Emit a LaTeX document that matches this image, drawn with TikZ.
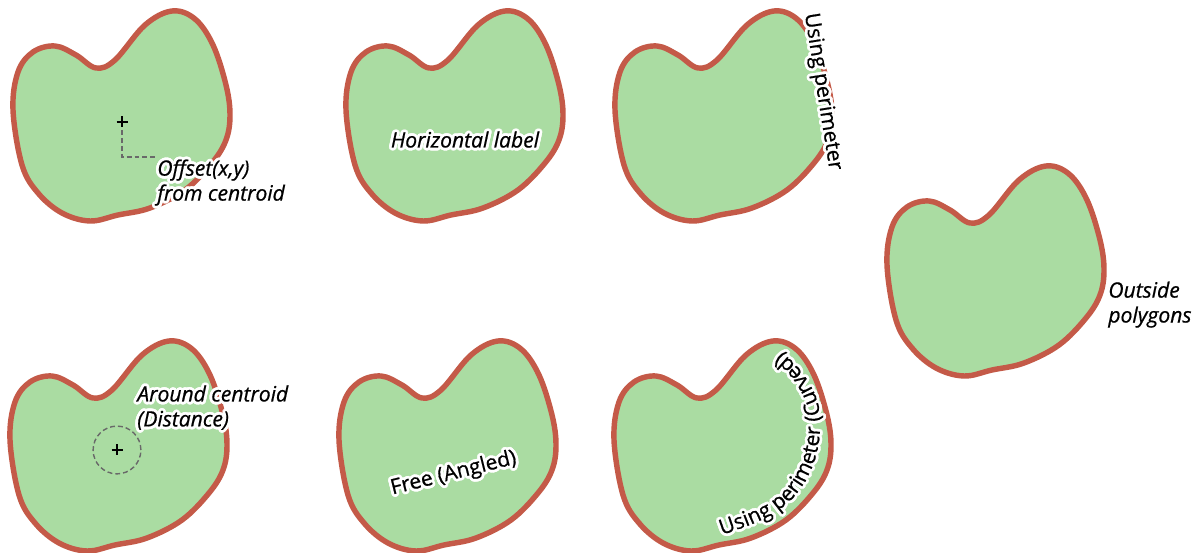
\documentclass[tikz,border=0pt]{standalone}
\usepackage{fontspec}
\setmainfont{Open Sans}[FakeBold=0.7]
\usepackage[copies]{contour}
\contourlength{1.6pt}
\usetikzlibrary{decorations.text}
\definecolor{blobfill}{RGB}{170,220,162}
\definecolor{blobline}{RGB}{196,90,72}
\definecolor{guidegray}{RGB}{105,105,105}
\newcommand\lblfont{\fontsize{12}{14.2}\selectfont}
\newcommand\blobat[2]{%
  \filldraw[blob, shift={(#1,#2)}] plot[smooth cycle, tension=0.6] coordinates {
    (13,110) (18,72) (33,52) (55,46) (76,55) (96,68) (115,60) (145,25)
    (172,11) (195,19) (213,45) (226,85) (230,115) (226,140) (212,163)
    (185,190) (150,208) (118,215) (90,221) (62,213) (38,193) (22,165)};}
\newcommand\curvedlabel[2]{%
  \path[decorate, decoration={text along path, text align=left,
      text={|\lblfont\color{#1}|Using perimeter (Curved)}}, shift={#2}]
    plot[smooth] coordinates {(722,535) (750,525) (773,514) (792,499) (806,480)
      (816,456) (820,430) (818,403) (808,381) (794,363) (779,351) (765,343)};}
\begin{document}
\begin{tikzpicture}[x=0.02cm, y=-0.02cm,
  blob/.style={fill=blobfill, draw=blobline, line width=3.1pt, line join=round},
  lbl/.style={inner sep=0pt, font=\lblfont},
  ilbl/.style={inner sep=0pt, font=\lblfont\itshape},
  crossmark/.style={line width=1.2pt, black},
  guideline/.style={draw=guidegray, line width=0.8pt, dash pattern=on 2.8pt off 1.7pt}]
\fill[white] (0,0) rectangle (1200,553);
\useasboundingbox (0,0) rectangle (1200,553);
% polygons
\blobat{0}{0}
\blobat{333}{0}
\blobat{602}{0}
\blobat{-3}{330}
\blobat{326}{330}
\blobat{601}{330}
\blobat{874}{155}
% offset from centroid
\coordinate (cen1) at (122,122);
\draw[guideline] (cen1) ++(0,8) |- (157,157);
\draw[crossmark] (cen1) +(-5.5,0) -- +(5.5,0) (cen1) +(0,-5.5) -- +(0,5.5);
\node[ilbl, anchor=west, align=left] (lbloffset) at (157,184)
  {\contour{white}{Offset(x,y)}\\\contour{white}{from centroid}};
% horizontal
\node[ilbl] (lblhoriz) at (465,141) {\contour{white}{Horizontal label}};
% using perimeter
\node[lbl, rotate=-81] (lblperim) at (821,92) {\contour{white}{Using perimeter}};
% around centroid
\coordinate (cen4) at (117,450);
\draw[guideline] (cen4) circle[radius=13.6pt];
\draw[crossmark] (cen4) +(-5.5,0) -- +(5.5,0) (cen4) +(0,-5.5) -- +(0,5.5);
\node[ilbl, anchor=west, align=left] (lblcentroid) at (137,409)
  {\contour{white}{Around centroid}\\\contour{white}{(Distance)}};
% free angled
\node[lbl, rotate=14] (lblfree) at (454,475) {\contour{white}{Free (Angled)}};
% curved
\foreach \a in {0,30,...,330}{\curvedlabel{white}{(\a:1.6pt)}}
\curvedlabel{black}{(0,0)}
% outside
\node[ilbl, anchor=west, align=left] (lbloutside) at (1108,306)
  {\contour{white}{Outside}\\\contour{white}{polygons}};
\end{tikzpicture}
\end{document}
